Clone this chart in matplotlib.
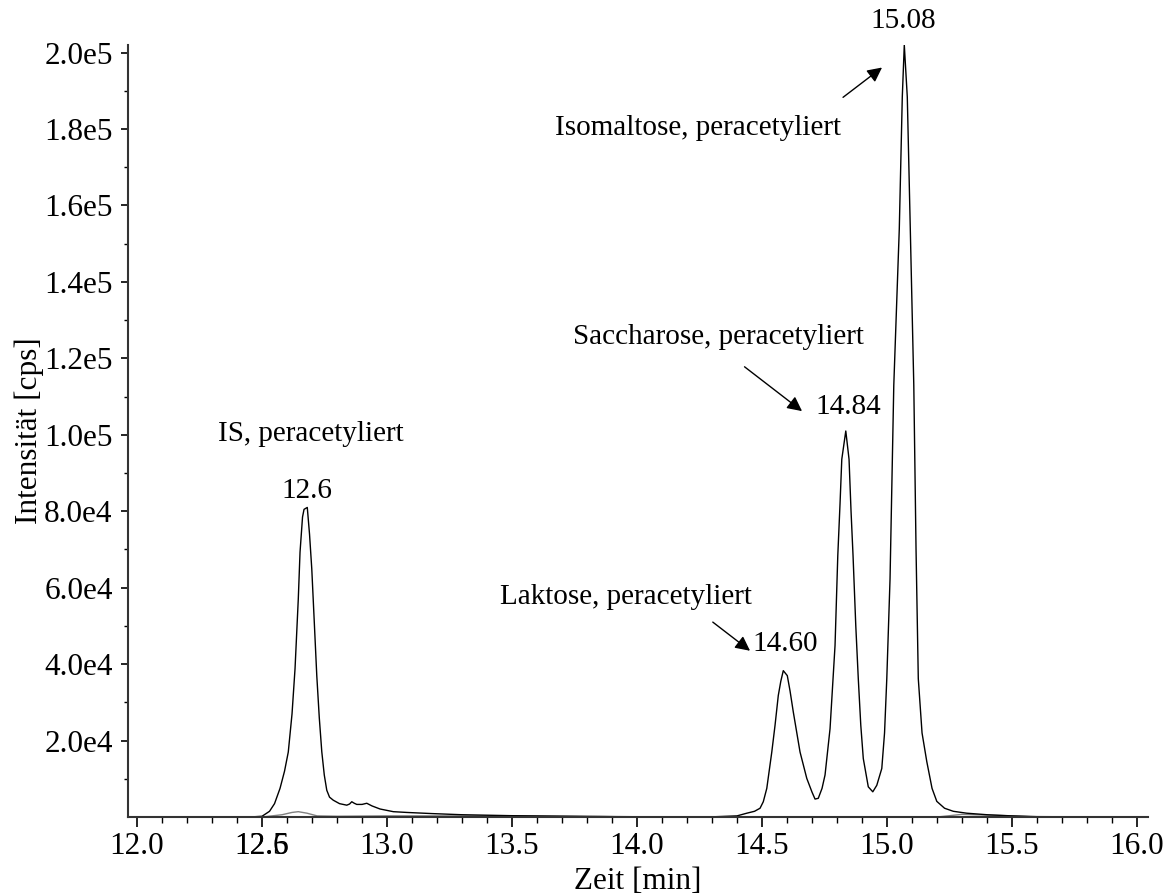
import matplotlib
matplotlib.use("Agg")
from matplotlib import pyplot as plt
from matplotlib.ticker import MultipleLocator, FixedLocator

plt.rcParams['font.family'] = ['Liberation Serif', 'DejaVu Serif']

# main TIC trace (time in min, intensity in cps)
t_main = [12.00, 12.45, 12.50, 12.53, 12.55, 12.572, 12.59, 12.605, 12.62, 12.632,
          12.645, 12.652, 12.662, 12.668, 12.681, 12.690, 12.699, 12.709, 12.719, 12.729,
          12.739, 12.749, 12.759, 12.770, 12.785, 12.810, 12.839, 12.850, 12.859, 12.869,
          12.879, 12.900, 12.919, 12.940, 12.972, 13.025, 13.079, 13.180, 13.300, 13.500,
          13.800, 14.000, 14.300, 14.400, 14.439, 14.470, 14.492, 14.505, 14.519, 14.539,
          14.552, 14.565, 14.575, 14.585, 14.601, 14.612, 14.625, 14.652, 14.679, 14.700,
          14.712, 14.725, 14.740, 14.752, 14.772, 14.792, 14.803, 14.812, 14.819, 14.835,
          14.848, 14.856, 14.864, 14.875, 14.885, 14.895, 14.905, 14.925, 14.943, 14.959,
          14.979, 14.990, 14.999, 15.012, 15.027, 15.049, 15.061, 15.069, 15.081, 15.093,
          15.107, 15.116, 15.125, 15.140, 15.159, 15.180, 15.199, 15.230, 15.265, 15.319,
          15.400, 15.500, 15.600, 16.040]
i_main = [0, 0, 200, 1500, 3500, 7500, 12000, 17000, 27000, 38800,
          57000, 69300, 78500, 80500, 81000, 74000, 64900, 51000, 37000, 26000,
          17100, 11000, 7000, 5200, 4400, 3500, 3100, 3400, 4000, 3600,
          3300, 3300, 3600, 2900, 2100, 1400, 1200, 900, 600, 350,
          150, 80, 50, 300, 1000, 1500, 2300, 4000, 7500, 17000,
          24000, 31800, 35500, 38300, 37000, 33000, 27500, 17000, 10100, 6500,
          4700, 4900, 7500, 11000, 23100, 44900, 68400, 82000, 93600, 101000,
          93600, 80000, 68400, 50000, 36200, 24000, 15300, 7900, 6600, 8300,
          12700, 22000, 36200, 62300, 113000, 153900, 188400, 202000, 188400, 153900,
          113000, 70000, 36200, 22000, 14500, 7500, 4100, 2300, 1500, 1000,
          600, 300, 100, 0]

# second trace, close to baseline
t_low = [12.00, 12.50, 12.58, 12.62, 12.645, 12.68, 12.72, 12.80, 13.00, 13.30,
         13.60, 13.85, 14.00, 15.20, 15.30, 15.50, 15.60, 16.04]
i_low = [0, 0, 600, 1200, 1400, 1000, 300, 200, 300, 300,
         250, 150, 0, 0, 700, 300, 0, 0]

# peak labels: (text, x, y)
names = ["IS, peracetyliert", "Laktose, peracetyliert",
         "Saccharose, peracetyliert", "Isomaltose, peracetyliert"]
name_pos = [(12.324, 100100), (13.452, 57600), (13.744, 125600), (13.672, 180200)]
rt_labels = ["12.6", "14.60", "14.84", "15.08"]
rt_pos = [(12.68, 85200), (14.46, 45300), (14.712, 107400), (14.932, 208400)]
# arrows: (tail, head)
arrows = [((14.303, 51000), (14.452, 43500)),
          ((14.43, 117800), (14.66, 106200)),
          ((14.824, 188300), (14.98, 196100))]

fig = plt.figure(figsize=(11.66, 8.94), dpi=100)
ax = fig.add_axes([0.1098, 0.0861, 0.8748, 0.8636])

ax.plot(t_low, i_low, color="#808080", lw=1)
ax.plot(t_main, i_main, color="black", lw=1)

ax.set_xlim(11.964, 16.044)
ax.set_ylim(0, 2.02e5)

ax.spines['top'].set_visible(False)
ax.spines['right'].set_visible(False)
for s in ['left', 'bottom']:
    ax.spines[s].set_linewidth(1.5)
    ax.spines[s].set_color("#333333")

ax.xaxis.set_major_locator(MultipleLocator(0.5))
ax.xaxis.set_minor_locator(MultipleLocator(0.1))
ax.xaxis.set_major_formatter(plt.FuncFormatter(lambda v, p: "%.1f" % v))
ax.yaxis.set_major_locator(FixedLocator([2e4 * k for k in range(1, 11)]))
ax.yaxis.set_minor_locator(FixedLocator([1e4 + 2e4 * k for k in range(10)]))
ax.yaxis.set_major_formatter(plt.FuncFormatter(
    lambda v, p: "%.1fe%d" % (v / 10 ** (len(str(int(v))) - 1), len(str(int(v))) - 1)))

ax.tick_params(axis='x', which='major', length=7, width=1.2, labelsize=22.5, pad=4)
ax.tick_params(axis='x', which='minor', length=4, width=1)
ax.tick_params(axis='y', which='major', length=5, width=1.2, labelsize=22.5, pad=6)
ax.tick_params(axis='y', which='minor', length=3, width=1)

ax.set_xlabel("Zeit [min]", fontsize=22.5, labelpad=4)
ax.set_ylabel("Intensität [cps]", fontsize=22.5, labelpad=0)

# stray retention time label sitting on the 12.5 tick label
ax.annotate("12.6", xy=(12.5, 0), xycoords=('data', 'axes fraction'),
            xytext=(0, -(7 + 4) * 100 / 72), textcoords='offset pixels',
            fontsize=22.5, ha='center', va='top', annotation_clip=False)

for txt, (x, y) in zip(names, name_pos):
    ax.text(x, y, txt, fontsize=21, ha='left', va='center')
for txt, (x, y) in zip(rt_labels, rt_pos):
    ha = 'center' if txt == "12.6" else 'left'
    ax.text(x, y, txt, fontsize=21, ha=ha, va='center', clip_on=False)
for tail, head in arrows:
    ax.annotate("", xy=head, xytext=tail,
                arrowprops=dict(arrowstyle="-|>", color="black", lw=1,
                                mutation_scale=22, shrinkA=0, shrinkB=0))

fig.savefig("out.png", dpi=100)
